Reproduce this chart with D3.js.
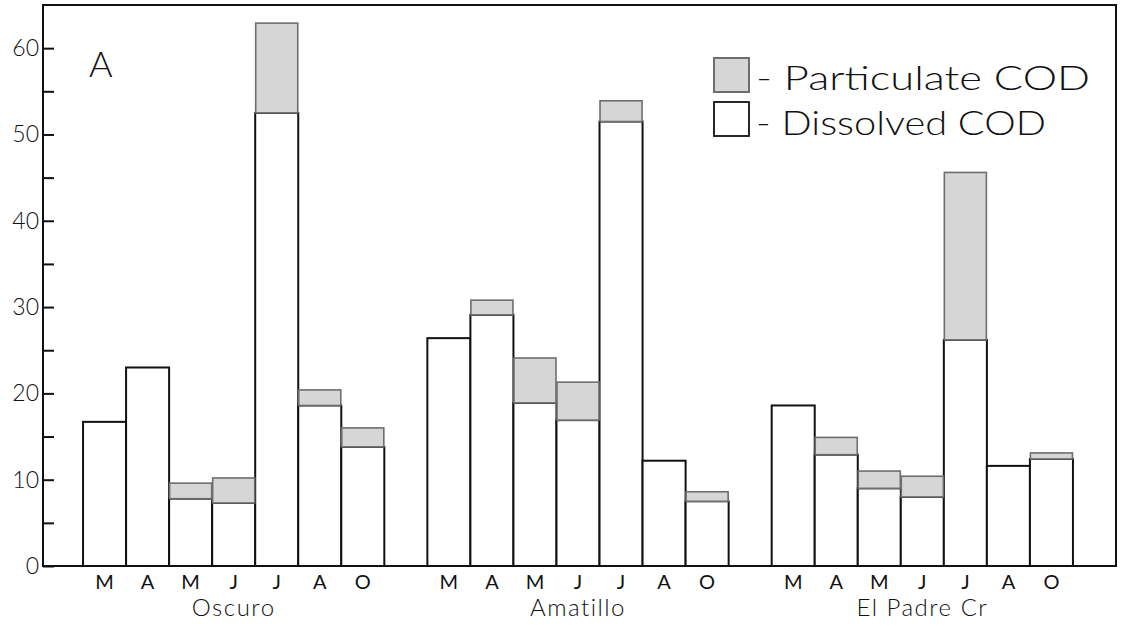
<!DOCTYPE html>
<html>
<head>
<meta charset="utf-8">
<script src="https://cdn.jsdelivr.net/npm/d3@7"></script>
<style>
  html, body { margin: 0; padding: 0; background: #fff; }
  svg { display: block; }
  text { font-family: "Lato", "DejaVu Sans", sans-serif; font-weight: 300; fill: #111; }
</style>
</head>
<body>
<svg id="chart" width="1124" height="630"></svg>
<script>
// Sampling months and sites
const months = ["M", "A", "M", "J", "J", "A", "O"];
const sites = ["Oscuro", "Amatillo", "El Padre Cr"];

// Dissolved COD per site, by month
const dissolvedOscuro   = [16.7, 23.0, 7.8, 7.3, 52.5, 18.6, 13.8];
const dissolvedAmatillo = [26.4, 29.1, 18.9, 16.9, 51.5, 12.2, 7.5];
const dissolvedPadre    = [18.6, 12.9, 9.0, 8.0, 26.2, 11.6, 12.4];

// Particulate COD stacked on top of the dissolved fraction
const particulateOscuro   = [0, 0, 1.8, 2.9, 10.4, 1.8, 2.2];
const particulateAmatillo = [0, 1.7, 5.2, 4.4, 2.4, 0, 1.1];
const particulatePadre    = [0, 2.0, 2.0, 2.4, 19.4, 0, 0.7];

// Y axis ticks
const majorTicks = [0, 10, 20, 30, 40, 50, 60];
const minorTicks = [5, 15, 25, 35, 45, 55];

const legendLabels = ["- Particulate COD", "- Dissolved COD"];
const panelLabel = "A";

const dissolved = [dissolvedOscuro, dissolvedAmatillo, dissolvedPadre];
const particulate = [particulateOscuro, particulateAmatillo, particulatePadre];

const rows = [];
sites.forEach((s, si) => {
  months.forEach((m, mi) => {
    rows.push({ site: s, idx: mi, month: m, dis: dissolved[si][mi], par: particulate[si][mi] });
  });
});

const frame = { left: 43, top: 5, right: 1116, bottom: 566 };
const svg = d3.select("#chart");

const y = d3.scaleLinear().domain([0, 65]).range([frame.bottom, frame.top]);

// Each site is 7 bar widths, separated by one empty bar width
const x0 = d3.scaleBand().domain(sites)
  .range([frame.left - 3, frame.right])
  .paddingInner(1 / 8).paddingOuter(1 / 8);
const x1 = d3.scaleBand().domain(d3.range(months.length))
  .range([0, x0.bandwidth()]).padding(0);

const groups = svg.append("g").selectAll("g").data(sites).join("g")
  .attr("transform", d => `translate(${x0(d)},0)`);

// Dissolved fraction: open bars
groups.selectAll("rect.dis")
  .data(s => rows.filter(r => r.site === s))
  .join("rect").attr("class", "dis")
  .attr("x", d => x1(d.idx))
  .attr("width", x1.bandwidth())
  .attr("y", d => y(d.dis))
  .attr("height", d => y(0) - y(d.dis))
  .attr("fill", "#fff")
  .attr("stroke", "#111")
  .attr("stroke-width", 2);

// Particulate fraction: grey caps
groups.selectAll("rect.par")
  .data(s => rows.filter(r => r.site === s && r.par > 0))
  .join("rect").attr("class", "par")
  .attr("x", d => x1(d.idx) + 0.5)
  .attr("width", x1.bandwidth() - 1)
  .attr("y", d => y(d.dis + d.par))
  .attr("height", d => y(d.dis) - y(d.dis + d.par))
  .attr("fill", "#d6d6d6")
  .attr("stroke", "#6e6e6e")
  .attr("stroke-width", 1.6);

// Month labels under each site
groups.append("g")
  .attr("transform", `translate(0,${frame.bottom})`)
  .call(d3.axisBottom(x1).tickSize(0).tickPadding(9).tickFormat(i => months[i]))
  .call(g => g.select(".domain").remove())
  .call(g => g.attr("font-family", null).attr("font-size", null))
  .selectAll("text")
  .attr("font-size", 20).style("font-weight", 400).attr("fill", "#111");

// Site names
svg.append("g")
  .attr("transform", `translate(0,${frame.bottom})`)
  .call(d3.axisBottom(x0).tickSize(0).tickPadding(33))
  .call(g => g.select(".domain").remove())
  .call(g => g.attr("font-family", null).attr("font-size", null))
  .selectAll("text")
  .attr("font-size", 24).attr("letter-spacing", 1.5).attr("fill", "#111");

// Y axis with inward ticks
svg.append("g")
  .attr("transform", `translate(${frame.left},0)`)
  .call(d3.axisLeft(y).tickValues(majorTicks).tickSize(-11).tickPadding(4))
  .call(g => g.select(".domain").remove())
  .call(g => g.attr("font-family", null).attr("font-size", null))
  .call(g => g.selectAll("line").attr("stroke", "#111").attr("stroke-width", 2))
  .selectAll("text")
  .attr("font-size", 23).attr("fill", "#111");

svg.append("g")
  .attr("transform", `translate(${frame.left},0)`)
  .call(d3.axisLeft(y).tickValues(minorTicks).tickSize(-11).tickFormat(""))
  .call(g => g.select(".domain").remove())
  .call(g => g.selectAll("line").attr("stroke", "#111").attr("stroke-width", 2));

// Plot frame
svg.append("rect")
  .attr("x", frame.left).attr("y", frame.top)
  .attr("width", frame.right - frame.left)
  .attr("height", frame.bottom - frame.top)
  .attr("fill", "none").attr("stroke", "#111").attr("stroke-width", 2);

// Panel letter
svg.append("text")
  .attr("x", 89).attr("y", 77)
  .attr("font-size", 36).text(panelLabel);

// Legend
const legend = svg.append("g");
legend.append("rect")
  .attr("x", 714).attr("y", 58).attr("width", 35).attr("height", 34)
  .attr("fill", "#d6d6d6").attr("stroke", "#6e6e6e").attr("stroke-width", 2);
legend.append("rect")
  .attr("x", 714).attr("y", 102).attr("width", 35).attr("height", 34)
  .attr("fill", "#fff").attr("stroke", "#111").attr("stroke-width", 1.8);
legend.append("text")
  .attr("x", 756).attr("y", 90).attr("font-size", 34)
  .attr("textLength", 334).attr("lengthAdjust", "spacingAndGlyphs")
  .text(legendLabels[0]);
legend.append("text")
  .attr("x", 756).attr("y", 135).attr("font-size", 34)
  .attr("textLength", 290).attr("lengthAdjust", "spacingAndGlyphs")
  .text(legendLabels[1]);
</script>
</body>
</html>
